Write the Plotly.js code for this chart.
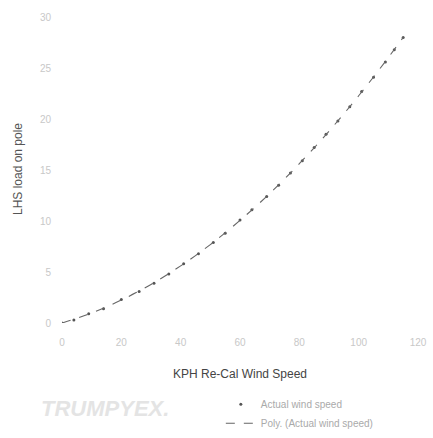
<!DOCTYPE html>
<html>
<head>
<meta charset="utf-8">
<script src="https://cdn.plot.ly/plotly-3.0.1.min.js"></script>
<style>html,body{margin:0;padding:0;background:#fff;}#chart{width:433px;height:438px;}</style>
</head>
<body>
<div id="chart"></div>
<script>
// Actual wind speed readings (KPH) and LHS load on pole
const windSpeed = [0, 4, 9, 14, 20, 26, 31, 36, 41, 46, 51, 55, 60, 64, 69, 73, 77, 81, 85, 89, 93, 97, 101, 105, 109, 112, 115];
const load      = [0.0, 0.3, 0.9, 1.4, 2.3, 3.1, 3.9, 4.8, 5.8, 6.8, 7.9, 8.8, 10.1, 11.1, 12.4, 13.5, 14.7, 15.9, 17.2, 18.5, 19.8, 21.2, 22.7, 24.1, 25.6, 26.8, 28.0];

// Polynomial trendline values
const polySpeed = [0, 5, 10, 15, 20, 25, 30, 35, 40, 45, 50, 55, 60, 65, 70, 75, 80, 85, 90, 95, 100, 105, 110, 115];
const polyLoad  = [0.0, 0.46, 0.99, 1.58, 2.25, 2.98, 3.78, 4.66, 5.6, 6.61, 7.69, 8.84, 10.06, 11.34, 12.7, 14.12, 15.62, 17.18, 18.81, 20.51, 22.28, 24.12, 26.03, 28.0];

const xTicks = [0, 20, 40, 60, 80, 100, 120];
const yTicks = [0, 5, 10, 15, 20, 25, 30];

const traces = [
  {
    x: windSpeed, y: load, type: 'scatter', mode: 'markers',
    name: 'Actual wind speed',
    marker: {size: 3, color: '#555'}
  },
  {
    x: polySpeed, y: polyLoad, type: 'scatter', mode: 'lines',
    name: 'Poly. (Actual wind speed)',
    line: {color: '#666', width: 1.1, dash: 'dash', shape: 'spline'}
  }
];

const layout = {
  width: 433, height: 438,
  margin: {l: 62, r: 15, t: 15, b: 115, autoexpand: false},
  paper_bgcolor: '#fff', plot_bgcolor: '#fff',
  font: {family: 'Liberation Sans, Arial, sans-serif', color: '#ccc', size: 10},
  showlegend: true,
  legend: {
    xref: 'container', yref: 'container',
    x: 0.51, y: 0.11, xanchor: 'left', yanchor: 'top',
    font: {size: 10, color: '#aaa'},
    bgcolor: 'rgba(0,0,0,0)', tracegroupgap: 0, itemwidth: 30
  },
  xaxis: {
    range: [0, 120], tickvals: xTicks, ticktext: xTicks.map(String),
    showgrid: false, zeroline: false, showline: false, ticks: '',
    ticklabelstandoff: 12,
    tickfont: {size: 10, color: '#c8c8c8'},
    title: {text: 'KPH Re-Cal Wind Speed', font: {size: 12, color: '#444'}, standoff: 22},
    automargin: false
  },
  yaxis: {
    range: [0, 30.2], tickvals: yTicks, ticktext: yTicks.map(String),
    showgrid: false, zeroline: false, showline: false, ticks: '',
    ticklabelstandoff: 10,
    tickfont: {size: 10, color: '#c8c8c8'},
    title: {text: 'LHS load on pole', font: {size: 12, color: '#555'}, standoff: 14},
    automargin: false
  },
  annotations: [
    {text: '<b><i>TRUMPYEX.</i></b>', xref: 'paper', yref: 'paper', x: -0.065, y: -0.276,
     xanchor: 'left', yanchor: 'middle', showarrow: false,
     font: {size: 22, color: '#e4e4e4', family: 'Liberation Sans, Arial, sans-serif'}}
  ]
};

Plotly.newPlot('chart', traces, layout, {displayModeBar: false, staticPlot: true});
</script>
</body>
</html>
